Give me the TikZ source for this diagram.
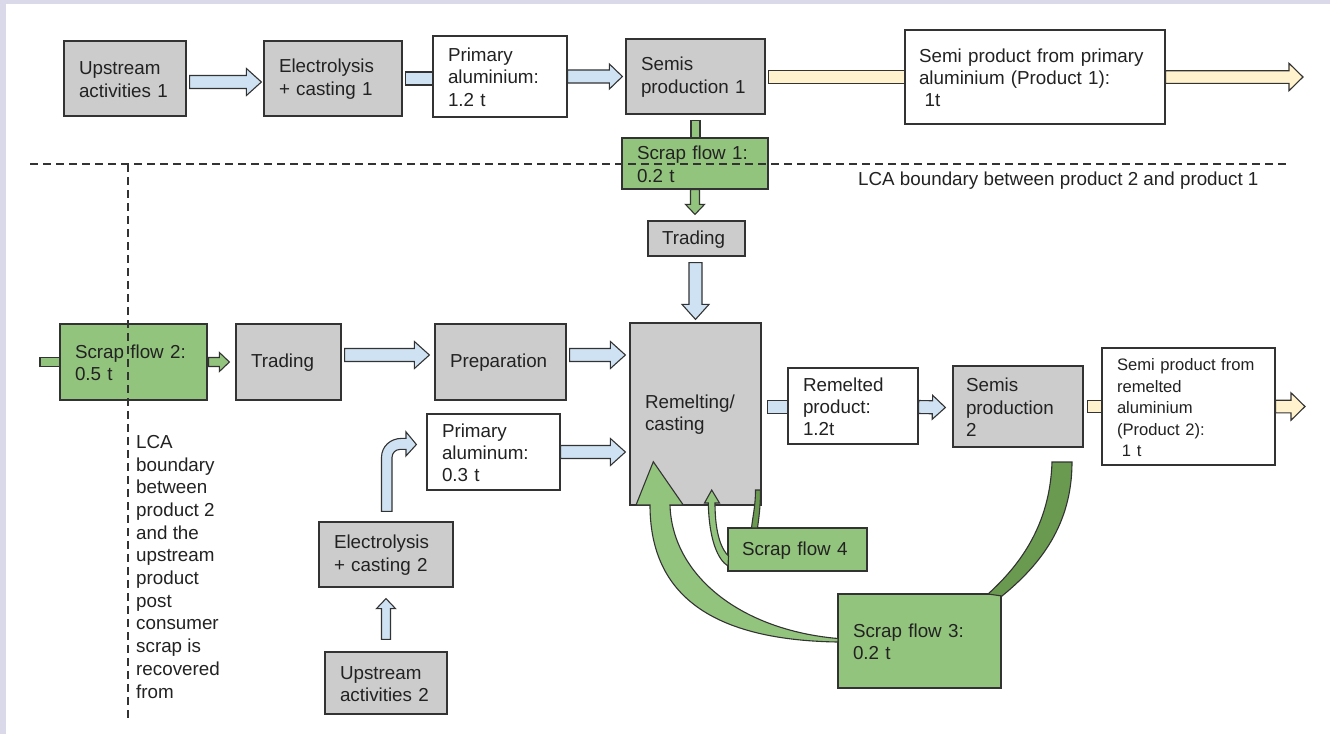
\documentclass[tikz,border=0pt]{standalone}
\usepackage{fontspec}
\setmainfont{Liberation Sans}
\usetikzlibrary{calc}
\pgfdeclarelayer{bg}
\pgfdeclarelayer{arr}
\pgfsetlayers{bg,arr,main}
\definecolor{lav}{HTML}{D9D9E9}
\definecolor{boxgray}{HTML}{CCCCCC}
\definecolor{scrapgreen}{HTML}{93C47D}
\definecolor{darkgreen}{HTML}{6A9A50}
\definecolor{arrblue}{HTML}{CFE2F3}
\definecolor{arryellow}{HTML}{FFF2CC}
\definecolor{linecol}{HTML}{333333}
\definecolor{txt}{HTML}{222222}
\newcommand{\boxfont}{\fontsize{18.8}{22.2}\selectfont}
\newcommand{\lcafont}{\fontsize{18.8}{22.7}\selectfont}
\newcommand{\smallboxfont}{\fontsize{16.6}{21.5}\selectfont}
\newcommand{\blockarrow}[6]{%
  \path (#2); \pgfgetlastxy{\baX}{\baY}%
  \path (#3); \pgfgetlastxy{\bbX}{\bbY}%
  \pgfmathsetmacro{\baAng}{atan2(\bbY-\baY,\bbX-\baX)}%
  \pgfmathsetmacro{\baLen}{veclen(\bbX-\baX,\bbY-\baY)}%
  \pgfmathsetmacro{\baBase}{\baLen-#6}%
  \draw[#1, shift={(\baX,\baY)}, rotate=\baAng] (0,#4) -- (\baBase,#4) -- (\baBase,#5) -- (\baLen,0) -- (\baBase,-#5) -- (\baBase,-#4) -- (0,-#4) -- cycle;%
}
\begin{document}
\begin{tikzpicture}[x=1pt,y=-1pt,
  box/.style={draw=linecol, line width=1.2pt, inner xsep=15pt, inner ysep=0pt, align=left, font=\boxfont, text=txt,
    execute at begin node={\rule{0pt}{15pt}}},
  gbox/.style={box, fill=boxgray},
  wbox/.style={box, fill=white},
  grbox/.style={box, fill=scrapgreen},
  barr/.style={draw=linecol, line width=1.1pt, fill=arrblue, line join=miter},
  yarr/.style={draw=linecol, line width=1.1pt, fill=arryellow, line join=miter},
  garr/.style={draw=linecol, line width=1.1pt, fill=scrapgreen, line join=miter},
  dgarr/.style={draw=linecol, line width=1.1pt, fill=darkgreen, line join=miter},
  dashline/.style={draw=linecol, line width=1.2pt, dash pattern=on 8pt off 5pt}
]
\useasboundingbox (0,0) rectangle (1330,734);
\begin{pgfonlayer}{bg}
  \fill[lav] (0,0) rectangle (1330,734);
  \fill[white] (6,4) rectangle (1330,734);
\end{pgfonlayer}

% nodes
\node[gbox, minimum width=122pt, minimum height=75pt, text width=92pt] (up1) at (125,78.5) {Upstream\\activities 1};
\node[gbox, minimum width=138pt, minimum height=75pt, text width=108pt] (el1) at (333,78.5) {Electrolysis\\+ casting 1};
\node[wbox, minimum width=134pt, minimum height=81pt, text width=104pt] (pa1) at (500,76.5) {Primary\\aluminium:\\1.2 t};
\node[gbox, minimum width=139pt, minimum height=75pt, text width=109pt] (sp1) at (695.5,76.5) {Semis\\production 1};
\node[wbox, minimum width=260pt, minimum height=94pt, text width=232pt, inner xsep=14pt] (semi1) at (1035,77) {Semi product from primary\\aluminium (Product 1):\\\hspace*{0.3em}1t};
\node[grbox, minimum width=146pt, minimum height=51pt, text width=116pt] (sf1) at (695,163.5) {Scrap flow 1:\\0.2 t};
\node[gbox, minimum width=97pt, minimum height=35pt, text width=69pt, inner xsep=14pt] (tr1) at (696.5,238.5) {Trading};
\node[grbox, minimum width=147pt, minimum height=76pt, text width=117pt] (sf2) at (133.5,362) {Scrap flow 2:\\0.5 t};
\node[gbox, minimum width=105pt, minimum height=76pt, text width=75pt] (tr2) at (288.5,362) {Trading};
\node[gbox, minimum width=131pt, minimum height=76pt, text width=101pt] (prep) at (500.5,362) {Preparation};
\node[gbox, minimum width=131pt, minimum height=182pt, text width=101pt] (remelt) at (695.5,414) {Remelting/\\casting};
\node[wbox, minimum width=133pt, minimum height=76pt, text width=103pt] (pa2) at (493.5,452) {Primary\\aluminum:\\0.3 t};
\node[gbox, minimum width=134pt, minimum height=65pt, text width=104pt] (el2) at (386,554.5) {Electrolysis\\+ casting 2};
\node[gbox, minimum width=122pt, minimum height=62pt, text width=92pt] (up2) at (386,683) {Upstream\\activities 2};
\node[wbox, minimum width=130pt, minimum height=76pt, text width=100pt] (rp) at (853,406) {Remelted\\product:\\1.2t};
\node[gbox, minimum width=130pt, minimum height=81pt, text width=104pt, inner xsep=13pt] (sp2) at (1018,406.5) {Semis\\production\\2};
\node[wbox, minimum width=173pt, minimum height=117pt, text width=143pt, font=\smallboxfont] (semi2) at (1188.5,406.5) {Semi product from\\remelted\\aluminium\\(Product 2):\\\hspace*{0.3em}1 t};
\node[grbox, minimum width=139pt, minimum height=43pt, text width=111pt, inner xsep=14pt] (sf4) at (797.5,549.5) {Scrap flow 4};
\node[grbox, minimum width=163pt, minimum height=94pt, text width=133pt] (sf3) at (919.5,641) {Scrap flow 3:\\0.2 t};

\node[anchor=base west, inner sep=0pt, font=\boxfont, text=txt] (lcah) at (858,185) {LCA boundary between product 2 and product 1};
\node[anchor=north west, inner sep=0pt, align=left, font=\lcafont, text=txt] (lcav) at (136,435) {LCA\\boundary\\between\\product 2\\and the\\upstream\\product\\post\\consumer\\scrap is\\recovered\\from};

\coordinate (out1) at (1303,77);
\coordinate (out2) at (1305,406.5);
\coordinate (in2) at (40,362);

% straight block arrows (below boxes)
\begin{pgfonlayer}{arr}
  \blockarrow{barr}{$(up1.east)+(3,3.5)$}{$(el1.west)+(-2,3.5)$}{6.5}{13.5}{15}
  \blockarrow{barr}{$(el1.east)+(3,0)$}{$(el1.east -| pa1.west)$}{6.5}{6.5}{0}
  \blockarrow{barr}{$(pa1.east)$}{$(sp1.west)+(-3,0)$}{6.5}{12.5}{13}
  \blockarrow{yarr}{$(sp1.east)+(3,0.5)$}{$(semi1.west)$}{6.3}{6.3}{0}
  \blockarrow{yarr}{$(semi1.east)$}{out1}{6.3}{13.7}{14}
  \blockarrow{garr}{$(sp1.south)+(0,6)$}{$(sf1.north)+(0.5,0)$}{4.5}{4.5}{0}
  \blockarrow{garr}{$(sf1.south)$}{$(tr1.north)+(-1.5,-6)$}{4.5}{9.5}{10}
  \blockarrow{barr}{$(tr1.south)+(-1,6)$}{$(tr1.south |- remelt.north)+(-1,-3)$}{6.5}{13.5}{15}
  \blockarrow{garr}{in2}{$(sf2.west)$}{4.5}{4.5}{0}
  \blockarrow{garr}{$(sf2.east)+(1,0)$}{$(tr2.west)+(-6,0)$}{4.5}{9.5}{10}
  \blockarrow{barr}{$(tr2.east)+(3,-7)$}{$(prep.west)+(-5,-7)$}{6.5}{13.5}{15}
  \blockarrow{barr}{$(prep.east)+(3,-7)$}{$(prep.east -| remelt.west)+(-4,-7)$}{6.5}{13.5}{15}
  \blockarrow{barr}{$(pa2.east)$}{$(pa2.east -| remelt.west)+(-4,0)$}{6.5}{13.5}{15}
  \blockarrow{barr}{$(up2.north)+(0,-12)$}{$(el2.south)+(0,11)$}{4.5}{9.5}{10}
  \blockarrow{barr}{$(remelt.east)+(6,-7)$}{$(rp.west)+(0,1)$}{6.5}{6.5}{0}
  \blockarrow{barr}{$(rp.east)+(0,1)$}{$(sp2.west)+(-7,1)$}{6.5}{12}{13}
  \blockarrow{yarr}{$(sp2.east)+(4,0)$}{$(semi2.west)$}{6.3}{6.3}{0}
  \blockarrow{yarr}{$(semi2.east)$}{out2}{6.3}{13.7}{14}
  % elbow arrow from electrolysis 2 to primary aluminum
  \draw[barr] ($(el2.north)+(-4.5,-10)$) -- ($(el2.north)+(-4.5,-64)$)
     .. controls ($(el2.north)+(-4.5,-75)$) and ($(el2.north)+(4.5,-83)$) .. ($(el2.north)+(15.5,-83)$)
     -- ($(el2.north)+(20,-83)$) -- ($(el2.north)+(20,-89.5)$) -- ($(pa2.west)+(-10,-7.5)$)
     -- ($(el2.north)+(20,-65.5)$) -- ($(el2.north)+(20,-72)$) -- ($(el2.north)+(14,-72)$)
     .. controls ($(el2.north)+(9.6,-72)$) and ($(el2.north)+(6,-68.4)$) .. ($(el2.north)+(6,-64)$)
     -- ($(el2.north)+(6,-10)$) -- cycle;
\end{pgfonlayer}

% curved scrap flows (on top)
\draw[dgarr] (1052,462) -- (1072,462) .. controls (1072,525) and (1040,565) .. (1002,596)
   -- (988,594) .. controls (1020,565) and (1050,525) .. (1052,462) -- cycle;
\draw[garr] (838,642) .. controls (705,640) and (650,590) .. (650,505) -- (636,505) -- (653.3,461.7)
   -- (683.3,505) -- (670,505) .. controls (672,575) and (740,630) .. (838,638.5) -- cycle;
\draw[garr] (728,566) .. controls (718,560) and (709,540) .. (708.3,503) -- (704.5,503) -- (711.7,490)
   -- (719.5,503) -- (715,503) .. controls (715,535) and (722,550) .. (728.5,556) -- cycle;
\draw[dgarr] (755.5,490) -- (760.5,490) .. controls (760.5,508) and (758.5,520) .. (757.5,528)
   -- (751.5,528) .. controls (752.5,518) and (755.5,506) .. (755.5,490) -- cycle;

% LCA boundaries
\coordinate (hl1) at (30,164);
\coordinate (hl2) at (1290,164);
\coordinate (vl1) at (128,164);
\coordinate (vl2) at (128,720);
\draw[dashline] (hl1) -- (hl2);
\draw[dashline] (vl1) -- (vl2);
\end{tikzpicture}
\end{document}
